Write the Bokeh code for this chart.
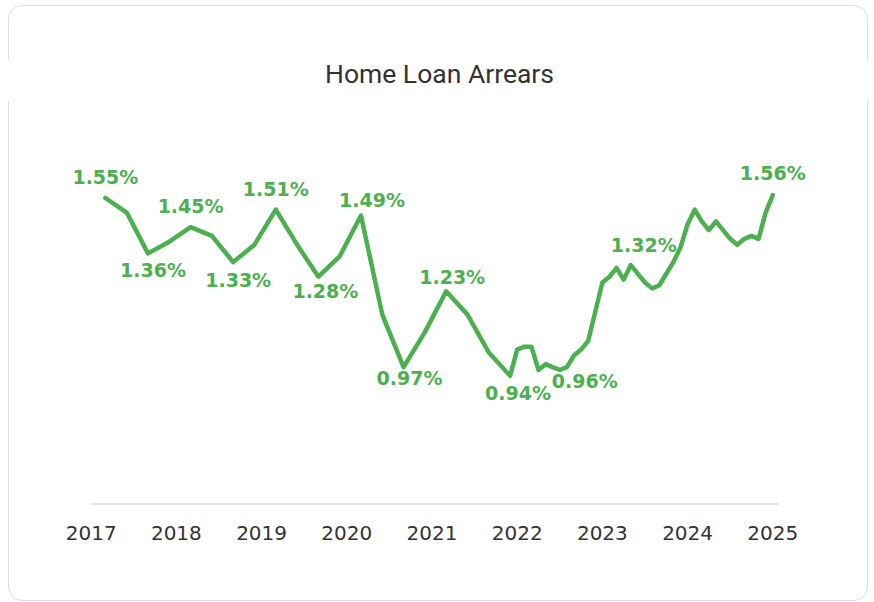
from bokeh.plotting import figure
from bokeh.models import Range1d, ColumnDataSource, FixedTicker, InlineStyleSheet, LabelSet
from bokeh.core.properties import value
from bokeh.embed import file_html
from bokeh.resources import INLINE

# ---- data ----
quarterly_dates = ["2017-03", "2017-06", "2017-09", "2017-12",
                   "2018-03", "2018-06", "2018-09", "2018-12",
                   "2019-03", "2019-06", "2019-09", "2019-12",
                   "2020-03", "2020-06", "2020-09", "2020-12",
                   "2021-03", "2021-06", "2021-09", "2021-12"]
quarterly_arrears = [1.55, 1.50, 1.36, 1.40,
                     1.45, 1.42, 1.33, 1.39,
                     1.51, 1.39, 1.28, 1.35,
                     1.49, 1.15, 0.97, 1.09,
                     1.23, 1.15, 1.02, 0.94]

monthly_dates = ["2022-01", "2022-02", "2022-03", "2022-04", "2022-05", "2022-06",
                 "2022-07", "2022-08", "2022-09", "2022-10", "2022-11", "2022-12",
                 "2023-01", "2023-02", "2023-03", "2023-04", "2023-05", "2023-06",
                 "2023-07", "2023-08", "2023-09", "2023-10", "2023-11", "2023-12",
                 "2024-01", "2024-02", "2024-03", "2024-04", "2024-05", "2024-06",
                 "2024-07", "2024-08", "2024-09", "2024-10", "2024-11", "2024-12",
                 "2025-01"]
monthly_arrears = [1.03, 1.04, 1.04, 0.96, 0.98, 0.97,
                   0.96, 0.97, 1.01, 1.03, 1.06, 1.16,
                   1.26, 1.28, 1.31, 1.27, 1.32, 1.29,
                   1.26, 1.24, 1.25, 1.29, 1.33, 1.38,
                   1.46, 1.51, 1.47, 1.44, 1.47, 1.44,
                   1.41, 1.39, 1.41, 1.42, 1.41, 1.50,
                   1.56]

labelled_dates = ["2017-03", "2017-09", "2018-03", "2018-09", "2019-03", "2019-09",
                  "2020-03", "2020-09", "2021-03", "2021-12", "2022-07", "2023-05",
                  "2025-01"]

tick_years = [2017, 2018, 2019, 2020, 2021, 2022, 2023, 2024, 2025]
tick_labels = ["2017", "2018", "2019", "2020", "2021", "2022", "2023", "2024", "2025"]

title_text = "Home Loan Arrears"

# ---- layout / style constants ----
label_dx = [0, 5, 0, 5, 0, 7, 11, 6, 6, 8, 25, 13, 0]
label_dy = [14, -24, 14, -25, 14, -21, 8, -18, 7, -24, -18, 13, 15]
axis_floor = 0.5                       # value where the baseline sits
axis_extent = (2016.994, 2025.0765)    # horizontal extent of the baseline


def to_year(d):
    y, m = d.split("-")
    return int(y) + (int(m) - 1) / 12.0


dates = quarterly_dates + monthly_dates
vals = quarterly_arrears + monthly_arrears
xs = [to_year(d) for d in dates]

lab_x = [to_year(d) for d in labelled_dates]
lab_y = [vals[dates.index(d)] for d in labelled_dates]
lab_t = ["%.2f%%" % v for v in lab_y]

GREEN = "#4caf50"

p = figure(width=860, height=596, output_backend="svg", toolbar_location=None,
           x_range=Range1d(2016.0412, 2026.1353), y_range=Range1d(0.4781, 1.8844),
           min_border_left=0, min_border_right=0, min_border_top=94,
           min_border_bottom=92, y_axis_location=None, title=title_text)

p.styles = {"position": "absolute", "left": "8px", "top": "5px",
            "border": "1px solid #dedede", "border-radius": "14px"}
p.stylesheets = [InlineStyleSheet(css=(
    ":host::before{content:'';position:absolute;left:-3px;width:5px;top:54px;height:41px;background:#ffffff;z-index:5;}"
    ":host::after{content:'';position:absolute;right:-3px;width:5px;top:54px;height:41px;background:#ffffff;z-index:5;}"
))]

p.background_fill_alpha = 0
p.border_fill_alpha = 0
p.outline_line_color = None
p.grid.visible = False

p.title.align = "center"
p.title.offset = 2
p.title.text_font = "Roboto"
p.title.text_font_size = "26.5px"
p.title.text_font_style = "normal"
p.title.text_color = "#333333"
p.title.standoff = 24

ax = p.xaxis[0]
ax.ticker = FixedTicker(ticks=tick_years)
ax.major_label_overrides = {y: t for y, t in zip(tick_years, tick_labels)}
ax.axis_line_color = None
ax.major_tick_line_color = None
ax.minor_tick_line_color = None
ax.major_label_text_font = "DejaVu Sans"
ax.major_label_text_font_size = "20px"
ax.major_label_text_color = "#333333"
ax.major_label_standoff = 9

# baseline of the category axis
p.segment(x0=[axis_extent[0]], y0=[axis_floor], x1=[axis_extent[1]], y1=[axis_floor],
          line_color="#e5e7eb", line_width=2)

src = ColumnDataSource(dict(x=xs, y=vals))
p.line("x", "y", source=src, line_color=GREEN, line_width=4.5, line_join="round",
       line_cap="round")

lsrc = ColumnDataSource(dict(x=lab_x, y=lab_y, t=lab_t, dx=label_dx, dy=label_dy))
labels = LabelSet(x="x", y="y", text="t", source=lsrc, x_offset="dx", y_offset="dy",
                  text_font=value("DejaVu Sans"), text_font_style="bold",
                  text_font_size="19px", text_color=GREEN, text_align="center",
                  text_baseline="alphabetic")
p.add_layout(labels)

open("out.html", "w").write(file_html(p, INLINE))
